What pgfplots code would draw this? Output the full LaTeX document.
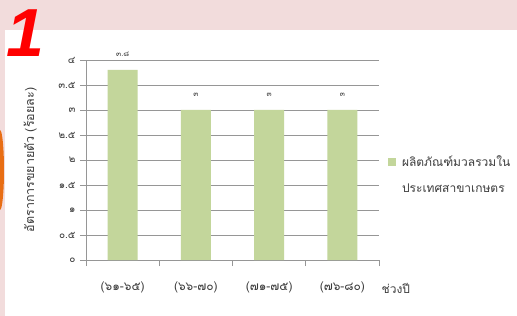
\documentclass[border=0pt]{standalone}
\usepackage{pgfplots}
\pgfplotsset{compat=1.18}
\usetikzlibrary{calc,backgrounds}
\usepackage{fontspec}
\setmainfont{Loma}[Script=Thai]
\newfontfamily\latinfont{Liberation Sans}
\definecolor{bgpink}{RGB}{242,220,220}
\definecolor{barcol}{RGB}{195,214,155}
\definecolor{gridcol}{RGB}{150,150,150}
\definecolor{orng}{RGB}{232,110,20}
\definecolor{txt}{RGB}{60,60,60}
\begin{document}
\begin{tikzpicture}[x=1pt,y=1pt]
\begin{axis}[
  at={(0,0)}, anchor=south west,
  scale only axis, width=293pt, height=200pt,
  xmin=-0.5, xmax=3.5, ymin=0, ymax=4,
  axis x line*=bottom, axis y line*=left,
  axis line style={gridcol, line width=0.8pt},
  ytick={0,0.5,1,1.5,2,2.5,3,3.5,4},
  yticklabels={๐,๐.๕,๑,๑.๕,๒,๒.๕,๓,๓.๕,๔},
  xtick={-0.5,0.5,1.5,2.5,3.5},
  xticklabels={(๖๑-๖๕),(๖๖-๗๐),(๗๑-๗๕),(๗๖-๘๐)},
  x tick label as interval=true,
  tick align=outside,
  major tick length=6pt,
  tick style={gridcol, line width=0.8pt},
  ymajorgrids, grid style={gridcol, line width=0.8pt},
  yticklabel style={font=\fontsize{10}{11}\selectfont, text=txt, xshift=-1pt},
  xticklabel style={font=\fontsize{12}{13}\selectfont, text=txt, yshift=-12pt},
  ylabel={อัตราการขยายตัว (ร้อยละ)},
  ylabel style={at={(axis description cs:-0.19,0.5)}, anchor=center, font=\fontsize{12.5}{13}\selectfont, text=txt},
  xlabel={ช่วงปี},
  xlabel style={at={(axis description cs:0.997,-0.14)}, anchor=west, font=\fontsize{12}{13}\selectfont, text=txt},
  legend style={draw=none, fill=none, at={(axis description cs:1.02,0.54)}, anchor=north west,
    font=\fontsize{12}{13}\selectfont, text=txt, row sep=11pt, cells={anchor=west}},
  legend image code/.code={\fill[barcol] (0pt,-4pt) rectangle (8pt,4pt);},
  legend cell align=left,
  nodes near coords, point meta=explicit symbolic,
  nodes near coords style={font=\fontsize{7.5}{8}\selectfont, text=txt, yshift=10pt},
  clip=false,
]
\coordinate (O) at (rel axis cs:0,0);
\addplot[ybar, bar width=30pt, fill=barcol, draw=none] coordinates {
  (0,3.8) [๓.๘]
  (1,3) [๓]
  (2,3) [๓]
  (3,3) [๓]
};
\addlegendentry{\hspace{4pt}ผลิตภัณฑ์มวลรวมใน}
\addlegendimage{empty legend}
\addlegendentry{\hspace{4pt}ประเทศสาขาเกษตร}
\end{axis}
\begin{scope}[on background layer]
\coordinate (P) at ($(O)+(-86,-56)$);
\fill[bgpink] (P) rectangle ++(517,316);
\fill[white] ($(P)+(5,0)$) rectangle ++(512,286);
\begin{scope}
\clip (P) rectangle ++(5,316);
\fill[orng] ($(P)+(0,146)$) ellipse (4 and 40);
\end{scope}
\end{scope}
\node[text=red, font=\latinfont\bfseries\itshape\fontsize{68}{68}\selectfont, inner sep=0pt] at ($(P)+(25,283)$) {1};
\pgfresetboundingbox
\path[use as bounding box] (P) rectangle ++(517,316);
\end{tikzpicture}
\end{document}
